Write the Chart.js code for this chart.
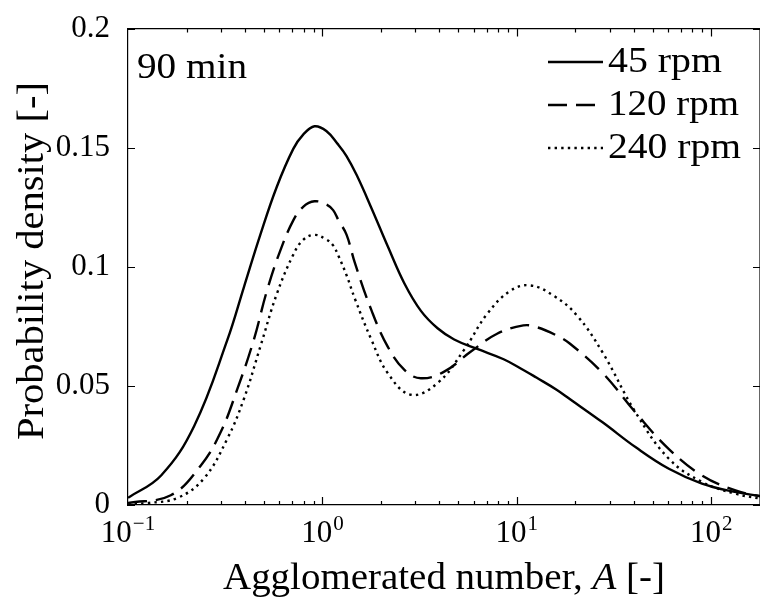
<!DOCTYPE html>
<html>
<head>
<meta charset="utf-8">
<script src="https://cdn.jsdelivr.net/npm/chart.js@4.4.0/dist/chart.umd.min.js"></script>
<style>
html, body { margin: 0; padding: 0; background: #fff; }
</style>
</head>
<body>
<canvas id="myChart" width="760" height="599"></canvas>
<script>
// datos (A [-] vs densidad)
var x45 = [0.1, 0.148, 0.219, 0.324, 0.394, 0.479, 0.582, 0.708, 0.796, 0.91, 1.047, 1.2, 1.33, 1.5, 1.79, 2.17, 2.64, 3.21, 3.91, 4.76, 6.25, 8.55, 10.8, 12.6, 16.0, 18.7, 27.7, 40.9, 60.5, 89.5, 132, 178]
var y45 = [0.003, 0.0124, 0.0332, 0.0692, 0.0913, 0.1134, 0.1335, 0.1495, 0.1555, 0.159, 0.157, 0.1515, 0.1465, 0.1385, 0.1245, 0.1085, 0.093, 0.0815, 0.0742, 0.0695, 0.0655, 0.0612, 0.0567, 0.0535, 0.0484, 0.0445, 0.0346, 0.0242, 0.0152, 0.009, 0.0055, 0.0038]

var x120 = [0.1, 0.166, 0.237, 0.299, 0.364, 0.443, 0.518, 0.605, 0.708, 0.796, 0.91, 1.047, 1.135, 1.21, 1.33, 1.47, 1.79, 2.17, 2.64, 3.21, 4.23, 5.78, 7.91, 10.8, 12.6, 16.0, 18.7, 27.7, 40.9, 60.5, 89.5, 132, 178]
var y120 = [0.0008, 0.0041, 0.0166, 0.0304, 0.0484, 0.0692, 0.0899, 0.1065, 0.1195, 0.1252, 0.1275, 0.1262, 0.1238, 0.1195, 0.1135, 0.1015, 0.0816, 0.0664, 0.0567, 0.0532, 0.056, 0.0643, 0.0719, 0.0754, 0.0747, 0.0712, 0.0678, 0.0553, 0.0387, 0.0235, 0.0124, 0.0062, 0.0036]

var x240 = [0.1, 0.126, 0.18, 0.246, 0.324, 0.394, 0.479, 0.582, 0.708, 0.796, 0.91, 1.047, 1.135, 1.21, 1.33, 1.47, 1.79, 2.17, 2.85, 3.91, 5.34, 7.03, 9.25, 11.7, 15.5, 20.4, 27.7, 40.9, 60.5, 89.5, 132, 178]
var y240 = [0.0002, 0.0008, 0.003, 0.0112, 0.0278, 0.0444, 0.0664, 0.0885, 0.1051, 0.1113, 0.1134, 0.1115, 0.109, 0.1045, 0.0965, 0.0865, 0.0692, 0.0553, 0.0463, 0.0512, 0.065, 0.0802, 0.0899, 0.0922, 0.0878, 0.0795, 0.0638, 0.0387, 0.0194, 0.0097, 0.0048, 0.0027]

var seriesLabels = ['45 rpm', '120 rpm', '240 rpm']
var xTickVals = [0.1, 1, 10, 100]
var xTickExps = ['\u22121', '0', '1', '2']
var yTickLabels = ['0', '0.05', '0.1', '0.15', '0.2']
var yTickVals = [0, 0.05, 0.1, 0.15, 0.2]
var panelText = '90 min'
var yTitle = 'Probability density [-]'

var serif = '"Liberation Serif", "Times New Roman", serif'

function pts(xs, ys) {
    return xs.map(function (v, i) { return { x: v, y: ys[i] } })
}

function lineSet(label, d, dash) {
    return {
        label: label,
        data: d,
        borderColor: '#000',
        borderWidth: 2.4,
        borderDash: dash,
        borderCapStyle: 'butt',
        pointRadius: 0,
        fill: false,
        tension: 0.4
    }
}

// texto estirado en horizontal hasta un ancho dado (la fuente original es mas ancha)
function wideText(c, txt, x, y, target) {
    const w = c.measureText(txt).width
    c.save()
    c.translate(x, y)
    c.scale(target / w, 1)
    c.fillText(txt, 0, 0)
    c.restore()
}

// ticks hacia adentro, marco, etiquetas 10^n, titulos, leyenda y texto
const decor = {
    id: 'decor',
    afterDraw(chart) {
        const c = chart.ctx, a = chart.chartArea
        const xs = chart.scales.x, ys = chart.scales.y
        c.save()
        c.strokeStyle = '#000'
        c.lineWidth = 1.2
        c.setLineDash([])
        c.beginPath()
        c.moveTo(a.left, a.top); c.lineTo(a.right, a.top); c.lineTo(a.right, a.bottom)
        for (let d = -1; d <= 2; d++) {
            for (let m = 1; m <= 9; m++) {
                const v = m * Math.pow(10, d)
                if (v <= 0.1 || v > xs.max) continue
                const px = Math.round(xs.getPixelForValue(v)) + 0.5
                const len = m === 1 ? 8 : 4
                c.moveTo(px, a.bottom); c.lineTo(px, a.bottom - len)
                c.moveTo(px, a.top); c.lineTo(px, a.top + len)
            }
        }
        yTickVals.forEach(function (v) {
            const py = Math.round(ys.getPixelForValue(v)) + 0.5
            c.moveTo(a.left, py); c.lineTo(a.left + 7, py)
            c.moveTo(a.right, py); c.lineTo(a.right - 7, py)
        })
        c.stroke()

        // etiquetas del eje x
        c.fillStyle = '#000'
        c.textAlign = 'left'
        c.textBaseline = 'alphabetic'
        xTickVals.forEach(function (v, i) {
            const px = xs.getPixelForValue(v)
            c.font = '31px ' + serif
            const wb = c.measureText('10').width
            c.font = '21px ' + serif
            const we = c.measureText(xTickExps[i]).width
            const x0 = px - (wb + we + 1) / 2
            c.font = '31px ' + serif
            c.fillText('10', x0, 542)
            c.font = '21px ' + serif
            c.fillText(xTickExps[i], x0 + wb + 1, 530)
        })

        // titulo eje x con A en italica
        const t1 = 'Agglomerated number, ', t2 = 'A', t3 = ' [-]'
        const f = '37px ' + serif, fi = 'italic 37px ' + serif
        c.font = f
        const w1 = c.measureText(t1).width, w3 = c.measureText(t3).width
        c.font = fi
        const w2 = c.measureText(t2).width
        const k = 442 / (w1 + w2 + w3)
        c.save()
        c.translate((a.left + 760) / 2 - 221, 589)
        c.scale(k, 1)
        c.font = f
        c.fillText(t1, 0, 0)
        c.font = fi
        c.fillText(t2, w1, 0)
        c.font = f
        c.fillText(t3, w1 + w2, 0)
        c.restore()

        // titulo eje y
        c.save()
        c.translate(33, 261)
        c.rotate(-Math.PI / 2)
        c.font = '37px ' + serif
        c.textBaseline = 'middle'
        wideText(c, yTitle, -179, 0, 358)
        c.restore()

        // leyenda
        const rows = [62, 105, 148]
        const widths = [114, 131, 133]
        c.font = '35px ' + serif
        c.textBaseline = 'middle'
        chart.data.datasets.forEach(function (ds, i) {
            c.lineWidth = ds.borderWidth
            c.setLineDash(ds.borderDash)
            c.beginPath()
            c.moveTo(548, rows[i]); c.lineTo(603, rows[i])
            c.stroke()
            wideText(c, ds.label, 608, rows[i] + 1, widths[i])
        })
        c.setLineDash([])
        c.textBaseline = 'alphabetic'
        wideText(c, panelText, 137, 78, 110)
        c.restore()
    }
}

Chart.defaults.font.family = serif
Chart.defaults.color = '#000'

var ctx = document.getElementById('myChart')
var chart = new Chart(ctx, {
    type: 'line',
    data: {
        datasets: [
            lineSet(seriesLabels[0], pts(x45, y45), []),
            lineSet(seriesLabels[1], pts(x120, y120), [19, 9]),
            lineSet(seriesLabels[2], pts(x240, y240), [2.4, 4.2])
        ]
    },
    options: {
        responsive: false,
        animation: false,
        devicePixelRatio: 1,
        layout: { padding: { top: 23, right: -5, left: 0, bottom: 0 } },
        plugins: { legend: { display: false }, tooltip: { enabled: false } },
        scales: {
            x: {
                type: 'logarithmic',
                min: 0.1,
                max: 178,
                grid: { display: false },
                border: { display: true, color: '#000', width: 1.2 },
                ticks: { display: false },
                afterBuildTicks: function (s) { s.ticks = xTickVals.map(function (v) { return { value: v } }) },
                afterFit: function (s) { s.height = 94 }
            },
            y: {
                min: 0,
                max: 0.2,
                grid: { display: false },
                border: { display: true, color: '#000', width: 1.2 },
                afterBuildTicks: function (s) { s.ticks = yTickVals.map(function (v) { return { value: v } }) },
                ticks: {
                    padding: 10,
                    color: '#000',
                    font: { size: 31, family: serif },
                    callback: function (v, i) { return yTickLabels[i] }
                },
                afterFit: function (s) { s.width = 128 }
            }
        }
    },
    plugins: [decor]
});
</script>
</body>
</html>
